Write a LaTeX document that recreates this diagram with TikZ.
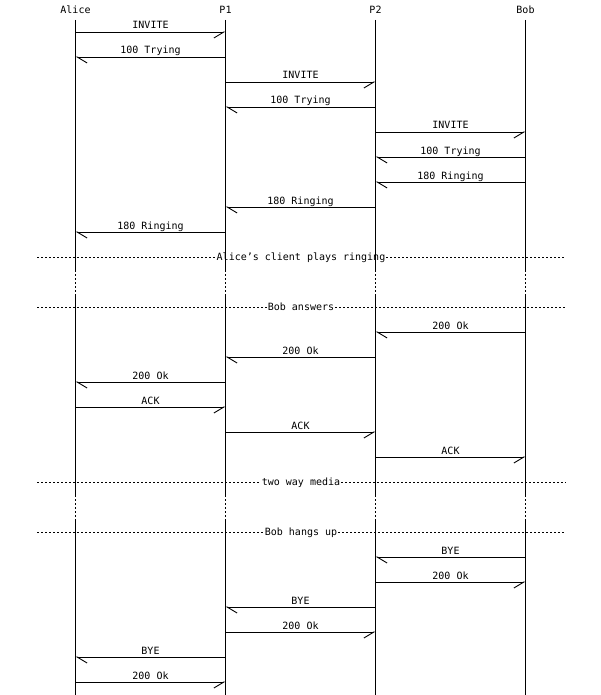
\documentclass[tikz,border=0pt]{standalone}
\usepackage{fontspec}
\setmainfont{DejaVu Sans Mono}
\usetikzlibrary{arrows.meta}

\tikzset{
    head/.style={font=\fontsize{10}{12}\selectfont, inner sep=1pt},
    lbl/.style={font=\fontsize{10}{12}\selectfont, anchor=base, yshift=3pt, inner sep=0pt},
    msgr/.style={-{Straight Barb[harpoon,swap,length=10pt,width=12pt]}},
    msgl/.style={-{Straight Barb[harpoon,length=10pt,width=12pt]}},
    gap/.style={dash pattern=on 2pt off 2pt},
    sepline/.style={dash pattern=on 2pt off 2pt},
    septext/.style={font=\fontsize{10}{12}\selectfont, anchor=base, yshift=-3.5pt, inner xsep=0.5pt, inner ysep=0pt}
}

\begin{document}
\begin{tikzpicture}[x=1pt, y=-1pt, line width=0.9pt]
    \useasboundingbox (0,0) rectangle (600,695);

    % entities
    \node[head] (alice) at (75.5,10) {Alice};
    \node[head] (p1)    at (225.5,10) {P1};
    \node[head] (p2)    at (375.5,10) {P2};
    \node[head] (bob)   at (525.5,10) {Bob};

    % lifelines
    \foreach \who in {alice,p1,p2,bob}{
        \draw (\who |- 0,20) -- (\who |- 0,270);
        \draw[gap] (\who |- 0,270) -- (\who |- 0,295);
        \draw (\who |- 0,295) -- (\who |- 0,495);
        \draw[gap] (\who |- 0,495) -- (\who |- 0,520);
        \draw (\who |- 0,520) -- (\who |- 0,695);
    }

    % messages
    \foreach \row/\src/\dst/\dir/\txt [evaluate=\row as \yy using 32+25*\row] in {
        0/alice/p1/r/INVITE,
        1/p1/alice/l/100 Trying,
        2/p1/p2/r/INVITE,
        3/p2/p1/l/100 Trying,
        4/p2/bob/r/INVITE,
        5/bob/p2/l/100 Trying,
        6/bob/p2/l/180 Ringing,
        7/p2/p1/l/180 Ringing,
        8/p1/alice/l/180 Ringing,
        12/bob/p2/l/200 Ok,
        13/p2/p1/l/200 Ok,
        14/p1/alice/l/200 Ok,
        15/alice/p1/r/ACK,
        16/p1/p2/r/ACK,
        17/p2/bob/r/ACK,
        21/bob/p2/l/BYE,
        22/p2/bob/r/200 Ok,
        23/p2/p1/l/BYE,
        24/p1/p2/r/200 Ok,
        25/p1/alice/l/BYE,
        26/alice/p1/r/200 Ok}{
        \draw[msg\dir] (\src |- 0,\yy) -- node[lbl] {\txt} (\dst |- 0,\yy);
    }

    % separators
    \foreach \row/\txt [evaluate=\row as \yy using 32+25*\row] in {
        9/Alice's client plays ringing,
        11/Bob answers,
        18/two way media,
        20/Bob hangs up}{
        \coordinate (sl) at (37,\yy);
        \coordinate (sr) at (566,\yy);
        \node[septext] (st) at (301,\yy) {\txt};
        \draw[sepline] (sl) -- (st.west |- sl);
        \draw[sepline] (st.east |- sr) -- (sr);
    }
\end{tikzpicture}
\end{document}
